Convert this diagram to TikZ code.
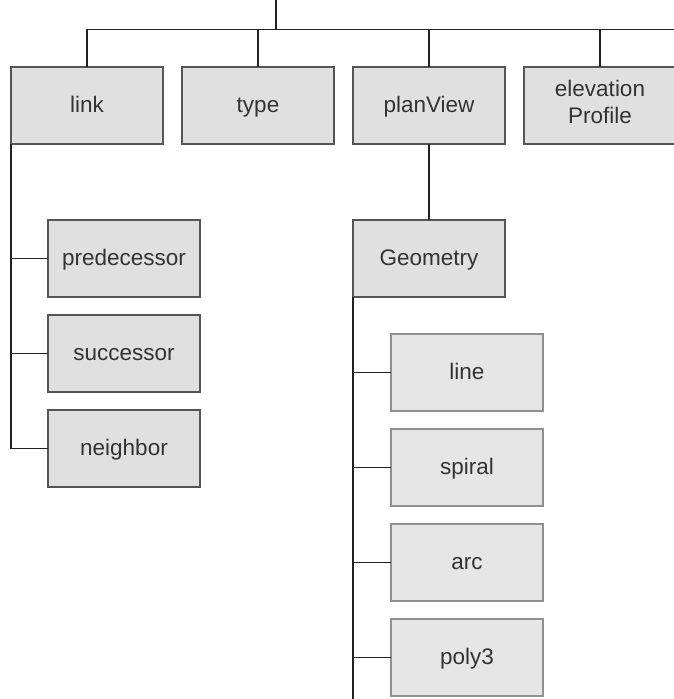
\documentclass[tikz,border=0pt]{standalone}
\usepackage{fontspec}
\setmainfont{Liberation Sans}
\usepackage{tikz}
\usetikzlibrary{positioning}
\definecolor{boxfill}{HTML}{E0E0E0}
\definecolor{boxline}{HTML}{555555}
\definecolor{leaffill}{HTML}{E6E6E6}
\definecolor{leafline}{HTML}{909090}
\definecolor{treeline}{HTML}{222222}
\definecolor{textgray}{HTML}{333333}

\begin{document}
\begin{tikzpicture}[
  node distance=18pt and 19pt,
  box/.style={draw=boxline,fill=boxfill,line width=1.8pt,outer sep=0pt,
              minimum width=152pt,minimum height=77pt,align=center,
              text=textgray,font=\fontsize{22.5}{27}\selectfont},
  word/.style={box,text height=17pt,text depth=4pt},
  leaf/.style={word,draw=leafline,fill=leaffill},
  wire/.style={draw=treeline,line width=1.8pt}
]
  \useasboundingbox (0,0) rectangle (674pt,-699pt);

  % top row
  \node[word] (link) at (87pt,-105.5pt) {link};
  \node[word,right=of link] (type) {type};
  \node[word,right=of type] (planView) {planView};
  \node[box,right=of planView,execute at begin node=\strut] (elevation) {elevation\\Profile};

  % children of link
  \node[word,below right=76pt and 37pt of link.south west] (predecessor) {predecessor};
  \node[word,below=of predecessor] (successor) {successor};
  \node[word,below=of successor] (neighbor) {neighbor};

  % planView and its geometry
  \node[word,below=76pt of planView] (geometry) {Geometry};
  \node[leaf,below right=37pt and 38pt of geometry.south west] (line) {line};
  \node[leaf,below=of line] (spiral) {spiral};
  \node[leaf,below=of spiral] (arc) {arc};
  \node[leaf,below=of arc] (poly3) {poly3};

  \coordinate (root) at (276pt,0pt);
  \coordinate (bus) at (276pt,-29.5pt);
  \coordinate (busend) at (690pt,-29.5pt);
  \coordinate (geotail) at ([yshift=-420pt]geometry.south west);

  \draw[wire] (root) -- (bus);
  \draw[wire] (link.north) |- (bus) -- (busend);
  \draw[wire] (type.north) |- (bus);
  \draw[wire] (planView.north) |- (bus);
  \draw[wire] (elevation.north) |- (bus);

  \draw[wire] (link.south west) |- (neighbor.west);
  \draw[wire] (link.south west |- predecessor.west) -- (predecessor.west);
  \draw[wire] (link.south west |- successor.west) -- (successor.west);

  \draw[wire] (planView) -- (geometry);
  \draw[wire] (geometry.south west) -- (geotail);
  \foreach \k in {line,spiral,arc,poly3}
    \draw[wire] (geometry.south west |- \k.west) -- (\k.west);
\end{tikzpicture}
\end{document}
